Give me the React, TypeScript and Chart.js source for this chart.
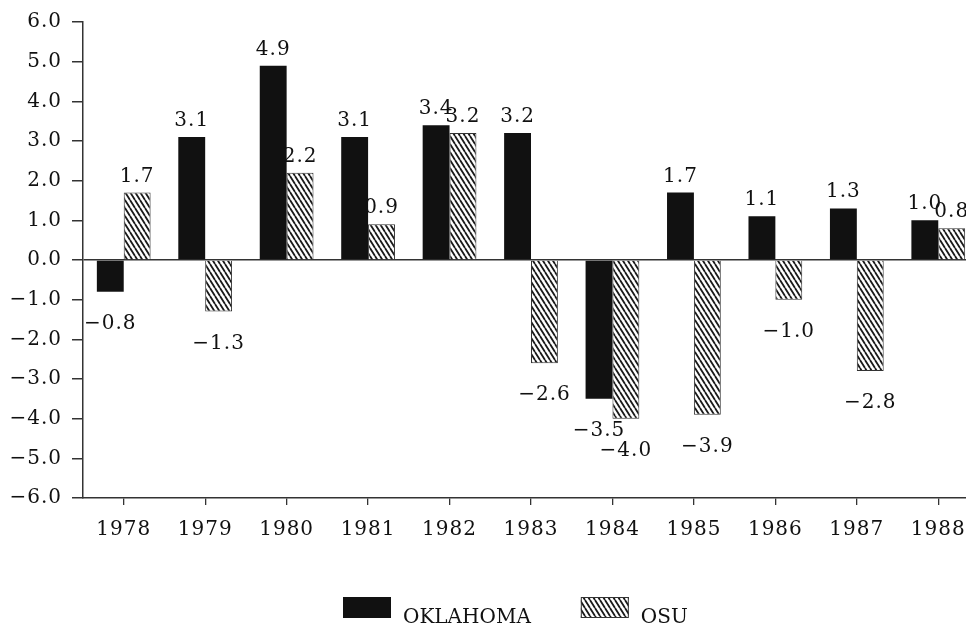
import React, { useEffect, useRef } from "react";
import { Chart, registerables } from "chart.js";

Chart.register(...registerables);

const years = ["1978", "1979", "1980", "1981", "1982", "1983", "1984", "1985", "1986", "1987", "1988"];
const oklahoma = [-0.8, 3.1, 4.9, 3.1, 3.4, 3.2, -3.5, 1.7, 1.1, 1.3, 1.0];
const osu = [1.7, -1.3, 2.2, 0.9, 3.2, -2.6, -4.0, -3.9, -1.0, -2.8, 0.8];
const seriesNames = ["OKLAHOMA", "OSU"];
const yMin = -6;
const yMax = 6;

const FONT = "'DejaVu Serif', 'Liberation Serif', serif";
const INK = "#111";

const fmt = (v: number) => (v < 0 ? "\u2212" + Math.abs(v).toFixed(1) : v.toFixed(1));

function makeHatch(): CanvasPattern | string {
  const c = document.createElement("canvas");
  const w = 5;
  const h = 8;
  c.width = w;
  c.height = h;
  const g = c.getContext("2d");
  if (!g) return "#888";
  g.fillStyle = "#fff";
  g.fillRect(0, 0, w, h);
  g.strokeStyle = "#1a1a1a";
  g.lineWidth = 1.8;
  g.beginPath();
  for (let k = -1; k <= 1; k++) {
    g.moveTo(k * w, 0);
    g.lineTo(k * w + w, h);
  }
  g.stroke();
  const p = g.createPattern(c, "repeat");
  return p || "#888";
}

const spacingPlugin = {
  id: "spacing",
  beforeUpdate(chart: any) {
    chart.ctx.letterSpacing = "1px";
  },
  beforeDraw(chart: any) {
    chart.ctx.letterSpacing = "1px";
  },
};

const valueLabels = {
  id: "valueLabels",
  afterDatasetsDraw(chart: any) {
    const ctx = chart.ctx;
    ctx.save();
    ctx.font = `20px ${FONT}`;
    ctx.fillStyle = INK;
    ctx.textAlign = "center";
    ctx.textBaseline = "alphabetic";
    chart.data.datasets.forEach((ds: any, di: number) => {
      const meta = chart.getDatasetMeta(di);
      meta.data.forEach((el: any, i: number) => {
        const v = ds.data[i];
        const y = v >= 0 ? el.y - 11 : el.y + 37;
        ctx.fillText(fmt(v), el.x, y);
      });
    });
    ctx.restore();
  },
};

const customLegend = {
  id: "customLegend",
  afterDraw(chart: any) {
    const ctx = chart.ctx;
    ctx.save();
    ctx.letterSpacing = "0px";
    ctx.font = `20px ${FONT}`;
    ctx.textBaseline = "alphabetic";
    ctx.textAlign = "left";
    const boxW = 48;
    const boxH = 21;
    const top = 597;
    let x = 343;
    chart.data.datasets.forEach((ds: any, di: number) => {
      ctx.fillStyle = ds.backgroundColor;
      ctx.fillRect(x, top, boxW, boxH);
      if (di > 0) {
        ctx.strokeStyle = "#333";
        ctx.lineWidth = 1;
        ctx.strokeRect(x + 0.5, top + 0.5, boxW - 1, boxH - 1);
      }
      x += boxW + 12;
      ctx.fillStyle = INK;
      ctx.fillText(ds.label, x, top + 26);
      x += ctx.measureText(ds.label).width + 50;
    });
    ctx.restore();
  },
};

export default function App() {
  const ref = useRef<HTMLCanvasElement | null>(null);

  useEffect(() => {
    if (!ref.current) return;
    const hatch = makeHatch();
    const chart = new Chart(ref.current, {
      type: "bar",
      data: {
        labels: years,
        datasets: [
          {
            label: seriesNames[0],
            data: oklahoma,
            backgroundColor: "#111",
            borderColor: "#111",
            borderWidth: 0,
            categoryPercentage: 0.66,
            barPercentage: 1.0,
          },
          {
            label: seriesNames[1],
            data: osu,
            backgroundColor: hatch as any,
            borderColor: "#333",
            borderWidth: 1,
            categoryPercentage: 0.66,
            barPercentage: 1.0,
          },
        ],
      },
      options: {
        responsive: false,
        animation: false,
        events: [],
        layout: { padding: { top: 17, right: 25, left: 0, bottom: 0 } },
        plugins: {
          legend: { display: false },
          tooltip: { enabled: false },
        },
        font: { family: FONT },
        scales: {
          x: {
            offset: true,
            afterFit: (scale: any) => {
              scale.height = 131;
            },
            grid: {
              offset: false,
              drawOnChartArea: false,
              drawTicks: true,
              tickLength: 7,
              tickColor: "#333",
              lineWidth: 1.3,
            },
            border: { display: true, color: "#333", width: 1.5 },
            ticks: {
              color: INK,
              font: { family: FONT, size: 20 },
              padding: 13,
              maxRotation: 0,
              autoSkip: false,
            },
          },
          y: {
            min: yMin,
            max: yMax,
            afterFit: (scale: any) => {
              scale.width = 83;
            },
            grid: {
              drawTicks: true,
              tickLength: 11,
              tickColor: "#333",
              color: (c: any) => (c.tick && c.tick.value === 0 ? "#333" : "rgba(0,0,0,0)"),
              lineWidth: 1.5,
            },
            border: { display: true, color: "#333", width: 1.5 },
            ticks: {
              stepSize: 1,
              color: INK,
              font: { family: FONT, size: 20 },
              padding: 10,
              callback: (v: any) => fmt(Number(v)),
            },
          },
        },
      } as any,
      plugins: [spacingPlugin, valueLabels, customLegend],
    });
    return () => chart.destroy();
  }, []);

  return (
    <div
      style={{
        position: "fixed",
        left: 0,
        top: 0,
        width: 966,
        height: 629,
        overflow: "hidden",
        background: "#fff",
      }}
    >
      <canvas ref={ref} width={1004} height={629} style={{ display: "block" }} />
    </div>
  );
}
